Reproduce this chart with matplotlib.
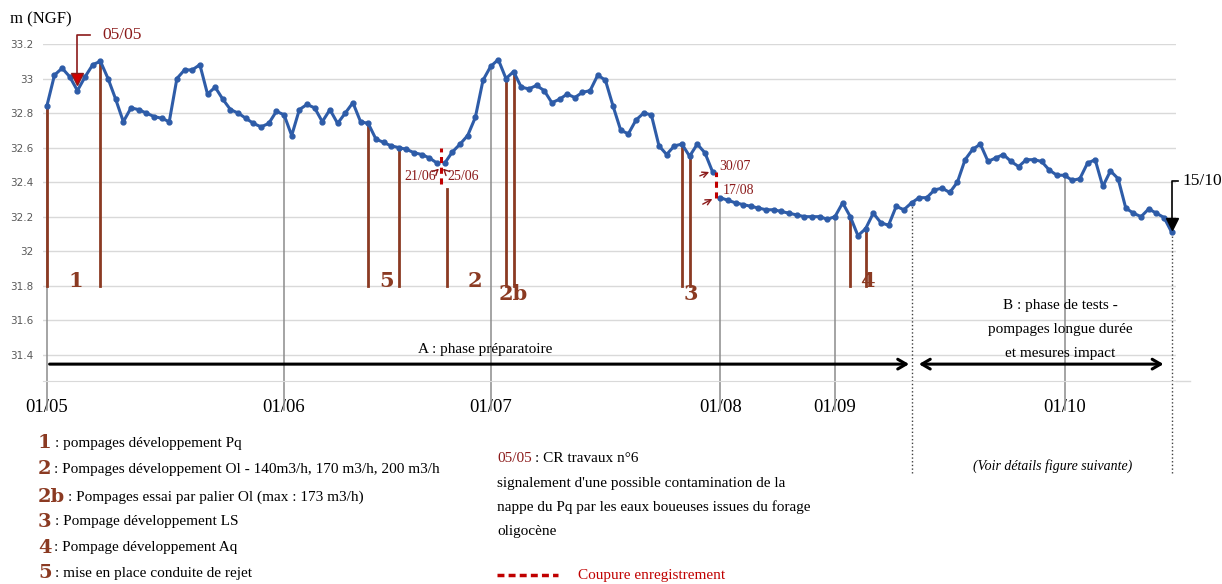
import numpy as np
import matplotlib.pyplot as plt

# niveaux journaliers m (NGF), 3 tronçons separes par les coupures d'enregistrement
# 01/05 -> 21/06
niv_mai_juin = [32.84, 33.02, 33.06, 33.01, 32.93, 33.01, 33.08, 33.10, 33.00, 32.88,
                32.75, 32.83, 32.82, 32.80, 32.78, 32.77, 32.75, 33.00, 33.05, 33.05,
                33.08, 32.91, 32.95, 32.88, 32.82, 32.80, 32.77, 32.74, 32.72, 32.74,
                32.81, 32.79, 32.67, 32.82, 32.85, 32.83, 32.75, 32.82, 32.74, 32.80,
                32.86, 32.75, 32.74, 32.65, 32.63, 32.61, 32.60, 32.59, 32.57, 32.56,
                32.54, 32.51]
# 25/06 -> 30/07
niv_juin_juil = [32.51, 32.575, 32.62, 32.67, 32.775, 32.99, 33.07, 33.11, 33.00, 33.04,
                 32.95, 32.94, 32.96, 32.93, 32.86, 32.88, 32.91, 32.89, 32.92, 32.93,
                 33.02, 32.99, 32.84, 32.70, 32.68, 32.76, 32.80, 32.79, 32.61, 32.56,
                 32.61, 32.62, 32.55, 32.62, 32.57, 32.46]
# 17/08 -> 15/10
niv_aout_oct = [32.31, 32.295, 32.28, 32.27, 32.26, 32.25, 32.24, 32.24, 32.23, 32.22,
                32.21, 32.20, 32.20, 32.20, 32.185,
                32.20, 32.28, 32.20, 32.09, 32.13, 32.22, 32.165, 32.15, 32.26, 32.24,
                32.28, 32.31, 32.31, 32.355, 32.365, 32.34, 32.40, 32.53, 32.59, 32.62,
                32.52, 32.54, 32.56, 32.52, 32.49, 32.53, 32.53, 32.52, 32.47, 32.44,
                32.44, 32.41, 32.42, 32.51, 32.53, 32.375, 32.465, 32.42, 32.25, 32.22,
                32.20, 32.245, 32.22, 32.195, 32.11]

mois_labels = ['01/05', '01/06', '01/07', '01/08', '01/09', '01/10']
mois_idx = [0, 31, 58, 88, 103, 133]

# evenements (index du jour) : lignes brunes
evt_labels = ['1', '5', '2', '2b', '3', '4']
evt_pos = [3.8, 44.4, 56.0, 60.9, 84.1, 107.2]
evt_y = [31.83, 31.83, 31.83, 31.755, 31.755, 31.83]
evt_lignes = [0, 7, 42, 46, 60, 61, 83, 84, 105, 107]

legende = [('1', ': pompages développement Pq'),
           ('2', ': Pompages développement Ol - 140m3/h, 170 m3/h, 200 m3/h'),
           ('2b', ': Pompages essai par palier Ol (max : 173 m3/h)'),
           ('3', ': Pompage développement LS'),
           ('4', ': Pompage développement Aq'),
           ('5', ': mise en place conduite de rejet')]

BLEU = '#2E5CA8'
BRUN = '#8B3A22'
ROUGE = '#8B1A1A'
GRIS = '#8c8c8c'
SERIF = ['Liberation Serif', 'DejaVu Serif']
NUM = ['DejaVu Serif']

W, H = 1222, 584


def px(x, y):
    return x / W, 1 - y / H


x1 = np.arange(0, len(niv_mai_juin))
x2 = np.arange(x1[-1] + 1, x1[-1] + 1 + len(niv_juin_juil))
x3 = np.arange(x2[-1] + 1, x2[-1] + 1 + len(niv_aout_oct))
niv = np.concatenate([niv_mai_juin, niv_juin_juil, niv_aout_oct])

fig = plt.figure(figsize=(W / 100, H / 100), dpi=100)
ax = fig.add_axes([43 / W, 1 - 380.7 / H, (1175.5 - 43) / W, (380.7 - 44) / H])
ax.set_xlim(-0.5, x3[-1] + 0.5)
ax.set_ylim(31.25, 33.2)

# grille
yt = np.round(np.arange(31.4, 33.21, 0.2), 1)
ax.set_yticks(yt)
ax.set_yticklabels([f'{v:g}' for v in yt])
ax.yaxis.grid(True, color='#d9d9d9', lw=1)
ax.set_axisbelow(True)
for s in ['top', 'left', 'right']:
    ax.spines[s].set_visible(False)
ax.spines['bottom'].set_color('#d9d9d9')
ax.plot([x3[-1] + 0.5, x3[-1] + 2.4], [31.25, 31.25], color='#d9d9d9', lw=1, clip_on=False)
ax.tick_params(axis='y', length=0, pad=7, labelsize=7.5, labelcolor='#595959')
ax.set_xticks(mois_idx, mois_labels)
ax.tick_params(axis='x', length=0, pad=13, labelsize=13.5)
for t in ax.get_xticklabels():
    t.set_family(SERIF)

# lignes verticales grises (debut de mois)
for i in mois_idx:
    ax.plot([i, i], [31.08, niv[i]], color=GRIS, lw=1.1, clip_on=False, zorder=1)

# lignes brunes des evenements
for i in evt_lignes:
    ax.plot([i, i], [31.8, niv[i]], color=BRUN, lw=2, zorder=2)
ax.plot([52.3, 52.3], [31.8, 32.36], color=BRUN, lw=2, zorder=2)
for lab, xp, yp in zip(evt_labels, evt_pos, evt_y):
    ax.text(xp, yp, lab, color=BRUN, fontsize=15, fontweight='bold', family=NUM,
            ha='center', va='center', zorder=3)

# courbe
for xs, ys in [(x1, niv_mai_juin), (x2, niv_juin_juil), (x3, niv_aout_oct)]:
    ax.plot(xs, ys, color=BLEU, lw=2.2, marker='o', ms=3.5, zorder=4)

# coupures d'enregistrement
ax.plot([51.5, 51.5], [32.39, 32.60], color='#C00000', lw=2.2, ls=(0, (2, 1.5)), zorder=5)
ax.plot([87.5, 87.5], [32.31, 32.46], color='#C00000', lw=2.2, ls=(0, (2, 1.5)), zorder=5)
arr = dict(arrowstyle='->', color=ROUGE, lw=1)
ax.annotate('', xy=(51.5, 32.49), xytext=(50.7, 32.455), arrowprops=arr)
ax.annotate('', xy=(51.5, 32.49), xytext=(52.3, 32.455), arrowprops=arr)
ax.annotate('', xy=(86.9, 32.465), xytext=(85.0, 32.43), arrowprops=arr)
ax.annotate('', xy=(87.3, 32.31), xytext=(85.4, 32.265), arrowprops=arr)
kw = dict(color=ROUGE, fontsize=10, family=SERIF, va='center')
ax.text(50.8, 32.434, '21/06', ha='right', **kw)
ax.text(52.4, 32.434, '25/06', ha='left', **kw)
ax.text(87.9, 32.49, '30/07', ha='left', **kw)
ax.text(88.3, 32.35, '17/08', ha='left', **kw)

# 05/05
ax.plot([5.7, 4, 4], [33.252, 33.252, 33.03], color=ROUGE, lw=1.2, clip_on=False, zorder=5)
ax.plot(4, 33.0, marker='v', ms=8, color='#D00000', mec=ROUGE, clip_on=False, zorder=6)
ax.text(7.2, 33.252, '05/05', color=ROUGE, fontsize=12.5, family=SERIF, va='center')

# 15/10
ax.plot([147.8, 147, 147], [32.409, 32.409, 32.17], color='black', lw=1.2, clip_on=False, zorder=5)
ax.plot(147, 32.155, marker='v', ms=8, color='black', clip_on=False, zorder=6)
ax.text(148.4, 32.409, '15/10', fontsize=12.5, family=SERIF, va='center')

# phases A et B
ax.plot([113, 113], [30.713, niv[113]], color='#404040', lw=1, ls=':', clip_on=False)
ax.plot([147, 147], [30.713, niv[147]], color='#404040', lw=1, ls=':', clip_on=False)
ax.annotate('', xy=(113.05, 31.346), xytext=(0, 31.346),
            arrowprops=dict(arrowstyle='->,head_length=0.6,head_width=0.35', color='black', lw=2.2))
ax.annotate('', xy=(146.3, 31.346), xytext=(113.6, 31.346),
            arrowprops=dict(arrowstyle='<->,head_length=0.6,head_width=0.35', color='black', lw=2.2))
tk = dict(fontsize=11, family=SERIF, ha='center', va='center')
fig.text(*px(485, 349), 'A : phase préparatoire', **tk)
for yy, t in zip([306, 330, 354], ['B : phase de tests -', 'pompages longue durée', 'et mesures impact']):
    fig.text(*px(1060, yy), t, **tk)
fig.text(*px(1053, 466), '(Voir détails figure suivante)', fontsize=10, family=SERIF,
         style='italic', ha='center', va='center')

fig.text(*px(10, 19), 'm (NGF)', fontsize=12, family=SERIF, va='center')

# legende bas gauche
lk = dict(fontsize=11, family=SERIF, va='center')
for k, (num, txt) in enumerate(legende):
    yy = [443, 469, 497, 522, 548, 573][k]
    t = fig.text(*px(38, yy), num, color=BRUN, fontsize=14, fontweight='bold', family=NUM, va='center')
    fig.canvas.draw()
    bb = t.get_window_extent()
    fig.text(bb.x1 / W + 3 / W, 1 - yy / H, txt, **lk)

# legende bas droite
t = fig.text(*px(497, 459), '05/05', color=ROUGE, **lk)
fig.canvas.draw()
bb = t.get_window_extent()
fig.text(bb.x1 / W + 3 / W, 1 - 459 / H, ': CR travaux n°6', **lk)
for yy, txt in zip([483, 507, 531], ["signalement d'une possible contamination de la",
                                     'nappe du Pq par les eaux boueuses issues du forage',
                                     'oligocène']):
    fig.text(*px(497, yy), txt, **lk)
fig.add_artist(plt.Line2D([497 / W, 558 / W], [1 - 575 / H] * 2, color='#C00000', lw=2.5,
                          ls=(0, (2, 1.2))))
fig.text(*px(578, 575), 'Coupure enregistrement', color='#C00000', **lk)

fig.savefig('out.png', dpi=100)
